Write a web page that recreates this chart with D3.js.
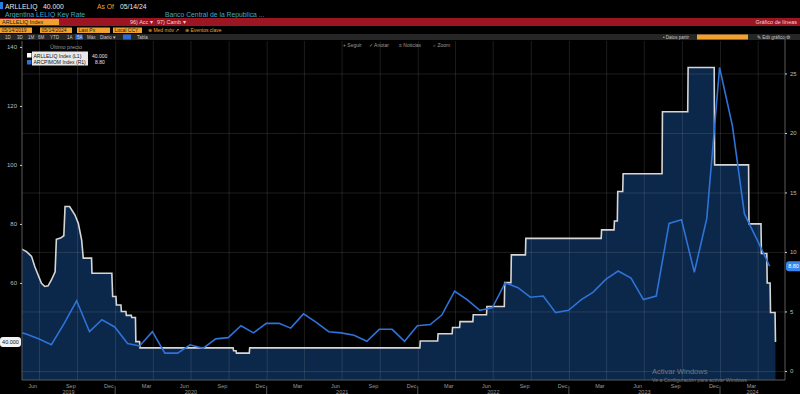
<!DOCTYPE html>
<html>
<head>
<meta charset="utf-8">
<script src="https://cdn.jsdelivr.net/npm/d3@7"></script>
<style>
body { margin: 0; background: #000; overflow: hidden; }
svg { display: block; font-family: "Liberation Sans", Arial, sans-serif; }
</style>
</head>
<body>
<div id="view"></div>
<script>
// ARLLELIQ Index (left axis) - daily, steps stored as pairs of days
const rateDates = [
    '2019-05-14', '2019-05-24', '2019-06-01', '2019-06-13', '2019-06-21', '2019-06-29',
    '2019-07-07', '2019-07-15', '2019-07-23', '2019-07-31', '2019-08-09', '2019-08-12',
    '2019-08-22', '2019-08-30', '2019-09-02', '2019-09-13', '2019-09-26', '2019-10-04',
    '2019-10-12', '2019-10-16', '2019-11-05', '2019-11-06', '2019-12-24', '2019-12-26',
    '2020-01-03', '2020-01-04', '2020-01-15', '2020-01-16', '2020-01-27', '2020-01-28',
    '2020-02-09', '2020-02-10', '2020-02-19', '2020-02-20', '2020-02-29', '2020-03-01',
    '2020-10-12', '2020-10-13', '2020-10-19', '2020-10-20', '2020-11-20', '2020-11-21',
    '2022-01-06', '2022-01-07', '2022-02-18', '2022-02-19', '2022-03-25', '2022-03-26',
    '2022-04-12', '2022-04-13', '2022-05-14', '2022-05-15', '2022-06-16', '2022-06-17',
    '2022-07-29', '2022-07-30', '2022-08-14', '2022-08-15', '2022-09-18', '2022-09-19',
    '2023-03-20', '2023-03-21', '2023-04-20', '2023-04-21', '2023-04-28', '2023-04-29',
    '2023-05-11', '2023-05-12', '2023-08-14', '2023-08-15', '2023-10-15', '2023-10-16',
    '2023-12-18', '2023-12-19', '2024-03-10', '2024-03-11', '2024-04-09', '2024-04-10',
    '2024-04-23', '2024-04-24', '2024-05-01', '2024-05-02', '2024-05-13', '2024-05-14'
];
const rateValues = [
    72.0, 71.2, 70.6, 69.0, 65.5, 62.7,
    59.9, 58.8, 59.0, 61.0, 63.8, 74.8,
    75.2, 76.0, 85.9, 85.9, 83.0, 80.2,
    74.6, 68.4, 68.4, 63.3, 63.3, 55.4,
    55.4, 52.5, 52.5, 50.3, 50.3, 49.0,
    49.0, 48.3, 48.3, 40.1, 40.1, 38.0,
    38.0, 37.0, 37.0, 36.2, 36.2, 38.0,
    38.0, 40.3, 40.3, 42.8, 42.8, 44.9,
    44.9, 46.9, 46.9, 49.2, 49.2, 52.0,
    52.0, 60.1, 60.1, 69.5, 69.5, 75.1,
    75.1, 78.0, 78.0, 81.0, 81.0, 91.0,
    91.0, 97.0, 97.0, 118.0, 118.0, 133.0,
    133.0, 100.0, 100.0, 80.0, 80.0, 70.0,
    70.0, 60.0, 60.0, 50.0, 50.0, 40.0
];

// ARCPIMOM Index (right axis) - monthly, from Apr 2019, plotted at month end
const cpiStart = '2019-04';
const cpiValues = [
    3.4, 3.1, 2.7, 2.2, 4.0, 5.9, 3.3, 4.3, 3.7,
    2.3, 2.1, 3.3, 1.5, 1.5, 2.2, 1.9, 2.7, 2.8, 3.8, 3.2, 4.0,
    4.0, 3.6, 4.8, 4.1, 3.3, 3.2, 3.0, 2.5, 3.5, 3.5, 2.5, 3.8,
    3.9, 4.7, 6.7, 6.0, 5.1, 5.3, 7.4, 7.0, 6.2, 6.3, 4.9, 5.1,
    6.0, 6.6, 7.7, 8.4, 7.8, 6.0, 6.3, 12.4, 12.7, 8.3, 12.8, 25.5,
    20.6, 13.2, 11.0, 8.8
];

const leftTicks = [60, 80, 100, 120, 140];
const rightTicks = [0, 5, 10, 15, 20, 25];
const quarterNames = ['Mar', 'Jun', 'Sep', 'Dec'];
const years = [2019, 2020, 2021, 2022, 2023, 2024];
const lastRate = '40.000';
const lastCpi = '8.80';

const parseDay = d3.timeParse('%Y-%m-%d');
const parseMonth = d3.timeParse('%Y-%m');

const rate = rateDates.map((d, i) => ({date: parseDay(d), value: rateValues[i]}));
const cpiFirst = parseMonth(cpiStart);
const cpi = cpiValues.map((v, i) => ({
    date: d3.timeDay.offset(d3.timeMonth.offset(cpiFirst, i + 1), -1),
    value: v
}));

const W = 800, H = 394;
const plot = {left: 22, right: 785, top: 41, bottom: 380};

const svg = d3.select('#view')
    .append('svg')
        .attr('width', W)
        .attr('height', H);

svg.append('rect').attr('width', W).attr('height', H).attr('fill', '#000');

// ---------- header ----------
const orange = '#f2a12e';
const teal = '#3fa9c4';
function txt(x, y, s, size, color, anchor) {
    return svg.append('text')
        .attr('x', x).attr('y', y)
        .attr('font-size', size)
        .attr('fill', color)
        .attr('text-anchor', anchor || 'start')
        .text(s);
}
svg.append('rect').attr('x', 0).attr('y', 2).attr('width', 3).attr('height', 7).attr('fill', '#2a7de1');
txt(5, 8.5, 'ARLLELIQ', 6.8, '#e6e6e6');
txt(43, 8.5, '40.000', 6.8, '#e6e6e6');
txt(97, 8.5, 'As Of', 6.8, orange);
txt(120, 8.5, '05/14/24', 6.8, '#e6e6e6');
txt(5, 16.8, 'Argentina LELIQ Key Rate', 6.8, teal);
txt(165, 16.8, 'Banco Central de la Republica ...', 6.8, teal);

svg.append('rect').attr('x', 0).attr('y', 18).attr('width', W).attr('height', 8).attr('fill', '#9b1622');
svg.append('rect').attr('x', 0).attr('y', 19).attr('width', 59).attr('height', 6).attr('fill', orange);
txt(2, 24.2, 'ARLLELIQ Index', 5.5, '#222');
txt(130, 24.2, '96) Acc \u25BE', 5.5, '#f0d0d0');
txt(157, 24.2, '97) Camb \u25BE', 5.5, '#f0d0d0');
txt(797, 24.2, 'Gr\u00E1fico de l\u00EDneas', 5.5, '#f0d0d0', 'end');

const boxes = [[0, 32, '05/14/2019'], [40, 32, '05/14/2024'], [77, 33, 'Last Px'], [113, 29, 'Local CCY']];
boxes.forEach(b => {
    svg.append('rect').attr('x', b[0]).attr('y', 27.5).attr('width', b[1]).attr('height', 5.5).attr('fill', orange);
    txt(b[0] + 1.5, 32.3, b[2], 5, '#222');
});
txt(148, 32.3, '\u2295 Med m\u00F3v \u2197', 5, orange);
txt(185, 32.3, '\u2295 Eventos clave', 5, orange);

svg.append('rect').attr('x', 0).attr('y', 34).attr('width', W).attr('height', 6).attr('fill', '#262626');
const tabs = [[5, '1D'], [17, '3D'], [28, '1M'], [38, '6M'], [50, 'YTD'], [67, '1A'], [77, '5A'], [87, 'M\u00E1x'], [100, 'Diario \u25BE'], [137, 'Tabla']];
svg.append('rect').attr('x', 75.5).attr('y', 34.5).attr('width', 7).attr('height', 5).attr('fill', '#2a6fd0');
svg.append('rect').attr('x', 123).attr('y', 34.5).attr('width', 8).attr('height', 5).attr('fill', '#2a6fd0');
tabs.forEach(t => txt(t[0], 38.8, t[1], 4.5, '#c8c8c8'));
txt(663, 38.8, '\u2022 Datos partir', 4.5, '#c8c8c8');
svg.append('rect').attr('x', 697).attr('y', 34.5).attr('width', 51).attr('height', 5).attr('fill', orange);
txt(757, 38.8, '\u270E Edit gr\u00E1fico \u2699', 4.5, '#c8c8c8');

// ---------- scales ----------
const x = d3.scaleTime()
    .domain([parseDay('2019-05-21'), parseDay('2024-06-06')])
    .range([plot.left, plot.right]);
const yL = d3.scaleLinear().domain([27.1, 142]).range([plot.bottom, plot.top]);
const yR = d3.scaleLinear().domain([-0.76, 27.73]).range([plot.bottom, plot.top]);

svg.append('clipPath').attr('id', 'clip')
    .append('rect')
        .attr('x', plot.left).attr('y', plot.top)
        .attr('width', plot.right - plot.left).attr('height', plot.bottom - plot.top);

const g = svg.append('g').attr('clip-path', 'url(#clip)');

// area under the rate line
g.append('path')
    .datum(rate)
    .attr('fill', '#0b2749')
    .attr('d', d3.area()
        .x(d => x(d.date))
        .y0(plot.bottom)
        .y1(d => yL(d.value)));

// grid
const quarterTicks = d3.timeMonth.every(3).range(parseDay('2019-07-01'), parseDay('2024-05-01'));
g.append('g')
    .attr('class', 'grid')
    .attr('transform', `translate(0, ${plot.bottom})`)
    .call(d3.axisBottom(x).tickValues(quarterTicks).tickSize(-(plot.bottom - plot.top)).tickFormat(''));
g.append('g')
    .attr('class', 'grid')
    .attr('transform', `translate(${plot.left}, 0)`)
    .call(d3.axisLeft(yR).tickValues(rightTicks).tickSize(-(plot.right - plot.left)).tickFormat(''));
svg.selectAll('.grid .domain').remove();
svg.selectAll('.grid line').attr('stroke', '#ffffff').attr('stroke-opacity', 0.11).attr('stroke-width', 1);

// lines
g.append('path')
    .datum(rate)
    .attr('fill', 'none')
    .attr('stroke', '#d6d6d6')
    .attr('stroke-width', 1.6)
    .attr('d', d3.line().x(d => x(d.date)).y(d => yL(d.value)));
g.append('path')
    .datum(cpi)
    .attr('fill', 'none')
    .attr('stroke', '#2f72d8')
    .attr('stroke-width', 1.6)
    .attr('d', d3.line().x(d => x(d.date)).y(d => yR(d.value)));

// ---------- axes ----------
svg.append('line').attr('x1', plot.left).attr('x2', plot.left).attr('y1', plot.top).attr('y2', plot.bottom)
    .attr('stroke', '#5a5a5a');
svg.append('line').attr('x1', plot.right).attr('x2', plot.right).attr('y1', 36).attr('y2', plot.bottom)
    .attr('stroke', '#5a5a5a');
svg.append('line').attr('x1', plot.left).attr('x2', plot.right).attr('y1', plot.bottom).attr('y2', plot.bottom)
    .attr('stroke', '#5a5a5a');

const leftAxis = svg.append('g')
    .attr('transform', `translate(${plot.left}, 0)`)
    .call(d3.axisLeft(yL).tickValues(leftTicks).tickSize(2).tickPadding(3));
const rightAxis = svg.append('g')
    .attr('transform', `translate(${plot.right}, 0)`)
    .call(d3.axisRight(yR).tickValues(rightTicks).tickSize(2).tickPadding(3));
[leftAxis, rightAxis].forEach(a => {
    a.select('.domain').remove();
    a.selectAll('line').attr('stroke', '#cfcfcf');
    a.selectAll('text').attr('fill', '#bdbdbd').attr('font-size', 6).attr('font-family', 'Liberation Sans, Arial');
});

// last value tags
svg.append('rect').attr('x', 0).attr('y', yL(40) - 5).attr('width', 21).attr('height', 10).attr('rx', 3).attr('fill', '#f2f2f2');
txt(10.5, yL(40) + 2, lastRate, 5.5, '#111', 'middle');
svg.append('rect').attr('x', 786).attr('y', yR(8.8) - 5).attr('width', 16).attr('height', 10).attr('rx', 3).attr('fill', '#3a86f0');
txt(793.5, yR(8.8) + 2, lastCpi, 5.5, '#fff', 'middle');

// month labels (centred on the month that ends at each quarter line)
quarterTicks.forEach(t => {
    const mid = d3.timeDay.offset(t, -15);
    txt(x(mid), 387.5, quarterNames[Math.floor(mid.getMonth() / 3)], 5.5, '#9a9a9a', 'middle');
});
// year labels centred on the visible part of each year
years.forEach(yr => {
    const a = Math.max(x(new Date(yr, 0, 1)), plot.left);
    const b = Math.min(x(new Date(yr + 1, 0, 1)), plot.right);
    txt((a + b) / 2, 393.5, String(yr), 5.5, '#9a9a9a', 'middle');
    if (yr > years[0]) {
        svg.append('line').attr('x1', a).attr('x2', a).attr('y1', 386).attr('y2', 394)
            .attr('stroke', '#555');
    }
});

// chart toolbar and legend
txt(343, 47, '+ Seguir', 5, '#9a9a9a');
txt(369, 47, '\u2713 Anotar', 5, '#9a9a9a');
txt(399, 47, '\u2261 Noticias', 5, '#9a9a9a');
txt(433, 47, '\u2315 Zoom', 5, '#9a9a9a');

txt(50, 49, '\u00DAltimo precio', 5.5, '#9a9a9a');
svg.append('rect').attr('x', 32).attr('y', 51.5).attr('width', 56).attr('height', 14).attr('fill', '#e9e9e9');
svg.append('rect').attr('x', 27).attr('y', 53).attr('width', 4.5).attr('height', 4.5).attr('fill', '#ffffff');
svg.append('rect').attr('x', 27).attr('y', 60).attr('width', 4.5).attr('height', 4.5).attr('fill', '#2f72d8');
txt(33.5, 57.5, 'ARLLELIQ Index  (L1)', 5, '#111');
txt(33.5, 64.3, 'ARCPIMOM Index  (R1)', 5, '#111');
txt(92, 57.5, lastRate, 5, '#e6e6e6');
txt(95, 64.3, lastCpi, 5, '#e6e6e6');

// windows watermark
txt(652, 373.5, 'Activar Windows', 7.5, '#8a8a8a').attr('opacity', 0.8);
txt(652, 381.5, 'Ve a Configuraci\u00F3n para activar Windows.', 5.2, '#8a8a8a').attr('opacity', 0.8);
</script>
</body>
</html>
